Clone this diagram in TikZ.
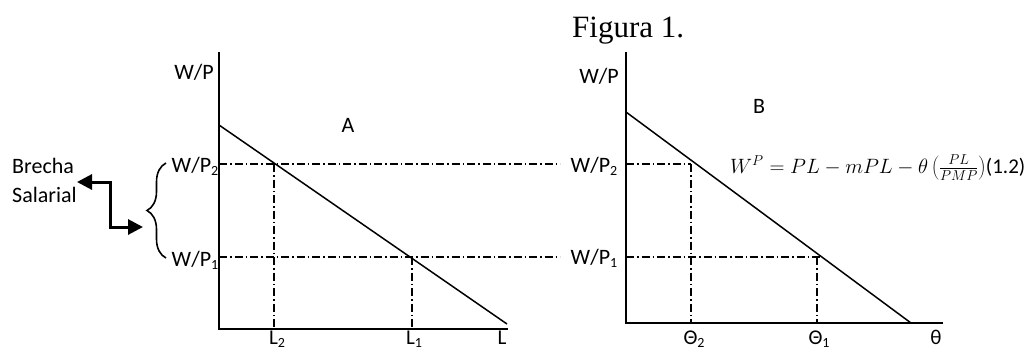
\documentclass[tikz,border=0pt]{standalone}
\usepackage{fontspec}
\setmainfont{Carlito}
\newfontfamily\figfont{Liberation Serif}
\usetikzlibrary{arrows.meta,decorations.pathreplacing}
\newcommand\sbs[1]{\raisebox{-3pt}{\fontsize{14}{14}\selectfont #1}}
\begin{document}
\begin{tikzpicture}[x=1pt,y=-1pt,
  axis/.style={line width=2pt},
  demand/.style={line width=1.5pt},
  guide/.style={line width=1.4pt, dash pattern=on 8pt off 3pt on 1.5pt off 3pt},
  lbl/.style={font=\fontsize{22}{26}\selectfont, inner sep=0pt, anchor=base},
  blbl/.style={font=\fontsize{21}{25}\selectfont, inner sep=0pt, anchor=base},
  gap/.style={line width=3pt, {Triangle[length=15pt,width=15pt]}-{Triangle[length=15pt,width=15pt]}}]
\useasboundingbox (0,0) rectangle (1025,349);
% Title
\node[font=\figfont\fontsize{31}{36}\selectfont, inner sep=0pt, anchor=base west] (title) at (572,37) {Figura 1.};
% Panel A
\coordinate (Ao) at (219,329);
\coordinate (Atop) at (219,52);
\coordinate (Aend) at (508,329);
\draw[axis] (Atop) -- (Ao) -- (Aend);
\coordinate (Ad1) at (219,125);
\coordinate (Ad2) at (507,324);
\draw[demand] (Ad1) -- (Ad2);
\coordinate (A2l) at (219,164);
\coordinate (A2r) at (560,164);
\coordinate (A1l) at (219,257);
\coordinate (A1r) at (560,257);
\draw[guide] (A2l) -- (A2r);
\draw[guide] (A1l) -- (A1r);
\coordinate (L2t) at (274,164);
\coordinate (L2b) at (274,329);
\coordinate (L1t) at (412,257);
\coordinate (L1b) at (412,329);
\draw[guide] (L2t) -- (L2b);
\draw[guide] (L1t) -- (L1b);
\node[lbl] (AWP) at (194,79) {W/P};
\node[lbl] (A) at (348,132) {A};
\node[lbl] (AWP2) at (195,172) {W/P\sbs{2}};
\node[lbl] (AWP1) at (195,266) {W/P\sbs{1}};
\node[blbl] (L2) at (277,344) {L\sbs{2}};
\node[blbl] (L1) at (414,344) {L\sbs{1}};
\node[blbl] (L) at (502,344) {L};
% Brace and gap
\draw[line width=1.6pt, decorate, decoration={brace, amplitude=19pt}] (166,258) -- (166,163);
\node[lbl, anchor=base west] (br) at (12,173) {Brecha};
\node[lbl, anchor=base west] (sal) at (12,202) {Salarial};
\coordinate (g1) at (77,182);
\coordinate (g2) at (143,227);
\draw[gap] (g1) -- (110,182) -- (110,227) -- (g2);
% Middle labels
\node[lbl] (BWP2) at (594,172) {W/P\sbs{2}};
\node[lbl] (BWP1) at (594,264) {W/P\sbs{1}};
% Panel B
\coordinate (Bo) at (626,323);
\coordinate (Btop) at (626,52);
\coordinate (Bend) at (943,323);
\draw[axis] (Btop) -- (Bo) -- (Bend);
\coordinate (Bd1) at (626,112);
\coordinate (Bd2) at (911,323);
\draw[demand] (Bd1) -- (Bd2);
\coordinate (B2l) at (626,164);
\coordinate (B2r) at (691,164);
\coordinate (B1l) at (626,257);
\coordinate (B1r) at (820,257);
\draw[guide] (B2l) -- (B2r);
\draw[guide] (B1l) -- (B1r);
\coordinate (T2b) at (691,323);
\coordinate (T1t) at (817,257);
\coordinate (T1b) at (817,323);
\draw[guide] (B2r) -- (T2b);
\draw[guide] (T1t) -- (T1b);
\node[lbl] (BWP) at (599,83) {W/P};
\node[lbl] (B) at (759,113) {B};
\node[blbl] (T2) at (694,344) {Θ\sbs{2}};
\node[blbl] (T1) at (819,344) {Θ\sbs{1}};
\node[blbl] (th) at (936,344) {θ};
\node[lbl, anchor=base west, font=\fontsize{21}{25}\selectfont] (eq) at (730,173) {$W^P = PL - mPL - \theta\left(\frac{PL}{PMP}\right)$(1.2)};
\end{tikzpicture}
\end{document}
